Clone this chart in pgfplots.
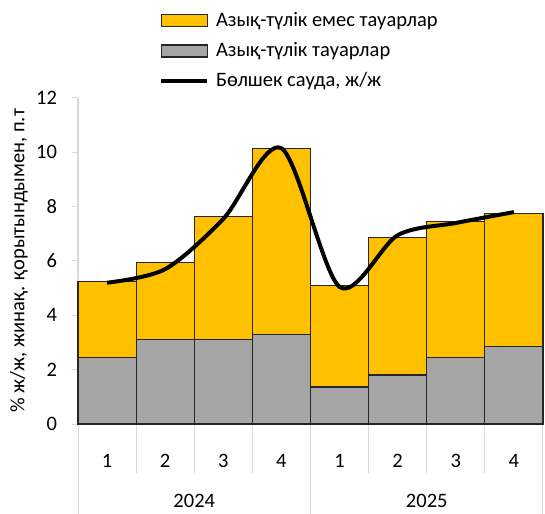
\documentclass[border=0pt]{standalone}
\usepackage{pgfplots}
\pgfplotsset{compat=1.18}
\usepackage{fontspec}
\setmainfont{Carlito}
\definecolor{orangeb}{HTML}{FFC000}
\definecolor{grayb}{HTML}{A5A5A5}
\definecolor{edge}{HTML}{262626}
\definecolor{axgray}{HTML}{D9D9D9}
\pgfplotsset{
  barleg/.style={legend image code/.code={\draw[##1] (0bp,-6bp) rectangle (46bp,6bp);}},
  lineleg/.style={legend image code/.code={\draw[##1] (0bp,0bp) -- (46bp,0bp);}},
}
\begin{document}
\fontsize{20.5bp}{24bp}\selectfont
\begin{tikzpicture}
\useasboundingbox (0,0) rectangle (545bp,514bp);
\begin{axis}[
  at={(78bp,90bp)}, anchor=south west,
  scale only axis, width=465bp, height=326bp,
  xmin=0.5, xmax=8.5, ymin=0, ymax=12,
  ybar stacked, bar width=1,
  axis lines*=left,
  axis line style={draw=axgray, line width=1.2bp},
  ytick={0,2,...,12},
  xtick={1,...,8}, xticklabels={1,2,3,4,1,2,3,4},
  tick align=outside, major tick length=6bp,
  ytick style={draw=axgray, line width=1bp},
  xtick style={draw=none},
  xticklabel style={yshift=-17bp},
  yticklabel style={xshift=-8bp},
  /pgf/number format/assume math mode=true,
  clip=false,
  ylabel={\% ж/ж, жинақ. қорытындымен, п.т},
  ylabel style={at={(axis description cs:-0.127,0.5)}, anchor=center},
]
\addplot[fill=grayb, draw=edge, line width=1.2bp] coordinates {
(1,2.44) (2,3.12) (3,3.12) (4,3.29) (5,1.36) (6,1.80) (7,2.44) (8,2.85)};
\addplot[fill=orangeb, draw=edge, line width=1.2bp] coordinates {
(1,2.81) (2,2.83) (3,4.53) (4,6.86) (5,3.74) (6,5.07) (7,5.00) (8,4.91)};
\foreach \s in {1.5,2.5,3.5,5.5,6.5,7.5} {
  \edef\tmp{\noexpand\draw[axgray, line width=1bp] (axis cs:\s,0) -- ([yshift=-49bp]axis cs:\s,0);}\tmp
}
\foreach \s in {0.5,4.5,8.5} {
  \edef\tmp{\noexpand\draw[axgray, line width=1bp] (axis cs:\s,0) -- ([yshift=-90bp]axis cs:\s,0);}\tmp
}
\node at (axis cs:2.5,0) [yshift=-77bp] {2024};
\node at (axis cs:6.5,0) [yshift=-77bp] {2025};
\end{axis}
\begin{axis}[
  at={(78bp,90bp)}, anchor=south west,
  scale only axis, width=465bp, height=326bp,
  xmin=0.5, xmax=8.5, ymin=0, ymax=12,
  hide axis, clip=false,
  legend style={at={(0.174,1.270)}, anchor=north west, draw=none, fill=none,
    inner sep=0pt, row sep=9bp, font=\fontsize{20.5bp}{24bp}\selectfont,
    /tikz/every odd column/.style={column sep=5bp}},
  legend cell align=left,
]
\addlegendimage{fill=orangeb, draw=edge, line width=1.2bp, barleg}
\addlegendentry{Азық-түлік емес тауарлар}
\addlegendimage{fill=grayb, draw=edge, line width=1.2bp, barleg}
\addlegendentry{Азық-түлік тауарлар}
\addplot[black, line width=4bp, smooth, tension=0.5, lineleg] coordinates {
(1,5.20) (2,5.70) (3,7.55) (4,10.15) (5,5.05) (6,6.95) (7,7.40) (8,7.80)};
\addlegendentry{Бөлшек сауда, ж/ж}
\end{axis}
\end{tikzpicture}
\end{document}
